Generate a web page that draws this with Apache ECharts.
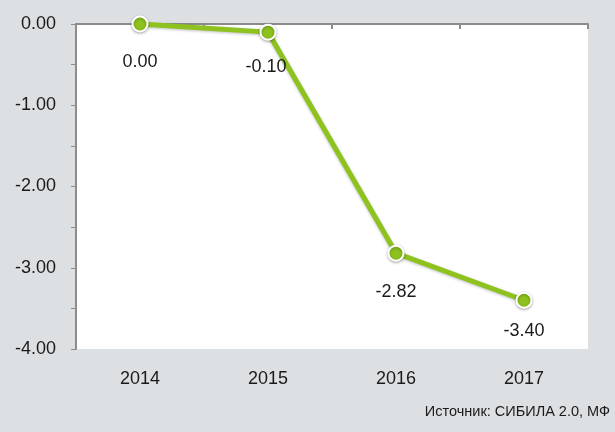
<!DOCTYPE html>
<html>
<head>
<meta charset="utf-8">
<script src="https://cdn.jsdelivr.net/npm/echarts@6/dist/echarts.min.js"></script>
<style>
  html, body { margin: 0; padding: 0; background: #dde0e3; }
  #chart { width: 615px; height: 432px; }
</style>
</head>
<body>
<div id="chart"></div>
<script>
var years = ['2014', '2015', '2016', '2017'];
var values = [0.00, -0.10, -2.82, -3.40];
var sourceText = 'Источник: СИБИЛА 2.0, МФ';

var font = '"Liberation Sans", Arial, sans-serif';
var dom = document.getElementById('chart');
var myChart = echarts.init(dom, null, { renderer: 'canvas' });

var option = {
  backgroundColor: '#dde0e3',
  animation: false,
  grid: { left: 76, right: 27, top: 24, bottom: 83, show: true, backgroundColor: '#ffffff', borderWidth: 0 },
  xAxis: [
    {
      type: 'category',
      data: years,
      position: 'bottom',
      axisLine: { show: false },
      axisTick: { show: false },
      axisLabel: { margin: 21, fontSize: 18, color: '#1a1a1a', fontFamily: font }
    },
    {
      type: 'category',
      data: years,
      position: 'top',
      axisLine: { show: true, lineStyle: { color: '#8c8c8c', width: 2 } },
      axisTick: { show: true, inside: true, length: 5, lineStyle: { color: '#8c8c8c', width: 2 } },
      axisLabel: { show: false }
    }
  ],
  yAxis: {
    type: 'value',
    min: -4,
    max: 0,
    interval: 1,
    axisLine: { show: true, lineStyle: { color: '#8c8c8c', width: 2 } },
    axisTick: { show: true, length: 5, lineStyle: { color: '#8c8c8c', width: 1 } },
    minorTick: { show: true, splitNumber: 2, length: 5, lineStyle: { color: '#8c8c8c', width: 1 } },
    splitLine: { show: false },
    axisLabel: {
      margin: 20, fontSize: 18, color: '#1a1a1a', fontFamily: font,
      formatter: function (v) { return v.toFixed(2); }
    }
  },
  series: [{
    type: 'line',
    xAxisIndex: 0,
    data: values.map(function (v, i) {
      var d = { value: v };
      if (i === 3) d.label = { distance: 13 };
      if (i === 1) d.label = { distance: 17, offset: [-2, 0] };
      return d;
    }),
    symbol: 'circle',
    symbolSize: 15,
    lineStyle: { color: '#8dc21f', width: 5, shadowColor: 'rgba(0,0,0,0.25)', shadowBlur: 3, shadowOffsetY: 1 },
    itemStyle: { color: '#8dc21f', borderColor: '#ffffff', borderWidth: 2, shadowColor: 'rgba(0,0,0,0.3)', shadowBlur: 3, shadowOffsetY: 1 },
    label: {
      show: true,
      position: 'bottom',
      distance: 21,
      fontSize: 18,
      color: '#1a1a1a',
      fontFamily: font,
      formatter: function (p) { return p.value.toFixed(2); }
    }
  }],
  graphic: [{
    type: 'text',
    right: 5,
    top: 404,
    style: { text: sourceText, fontSize: 14.5, fill: '#1a1a1a', fontFamily: font }
  }]
};

myChart.setOption(option);
window.addEventListener('resize', myChart.resize);
</script>
</body>
</html>
